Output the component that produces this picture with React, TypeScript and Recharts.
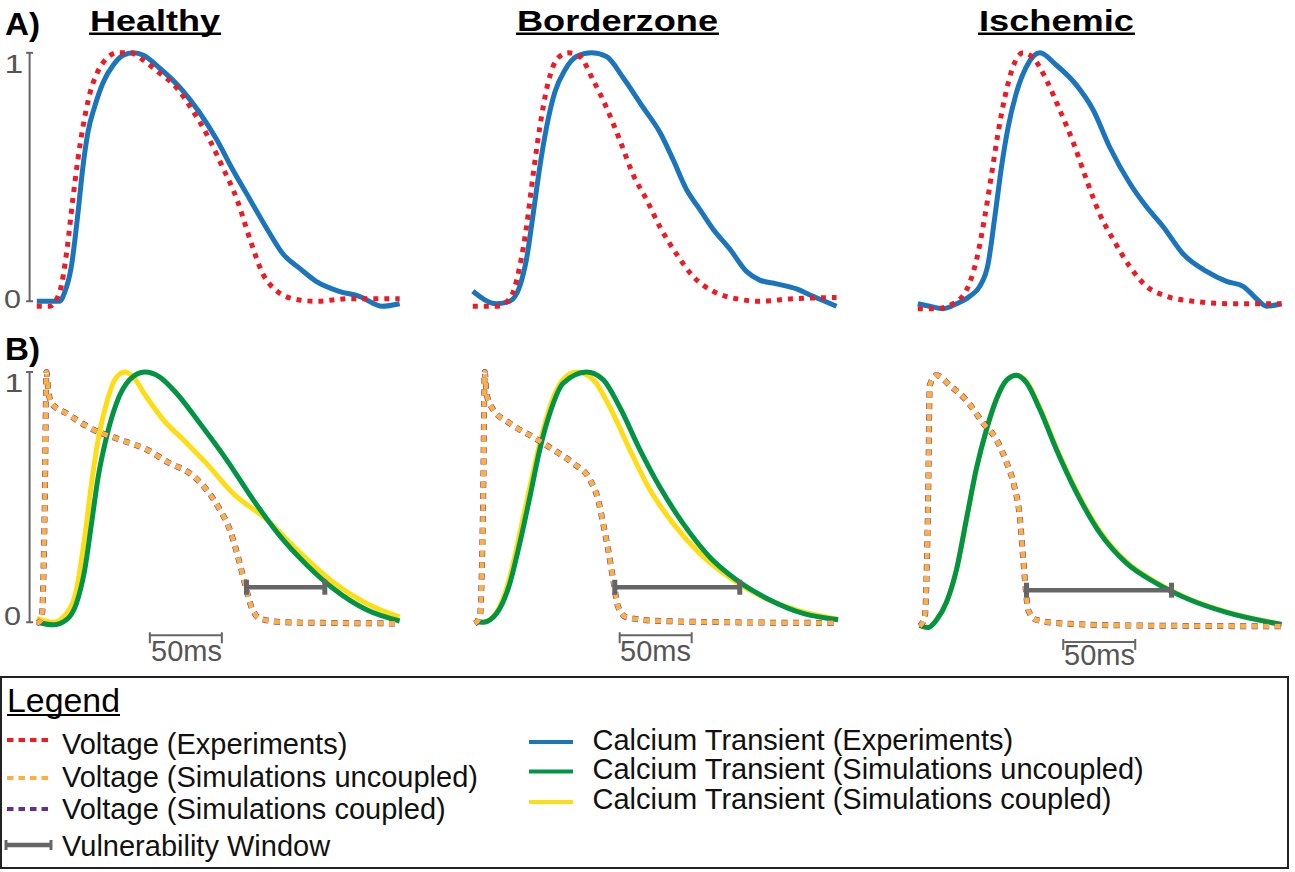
import { LineChart, Line, XAxis, YAxis } from 'recharts';

// traces: [time in ms from panel start, normalised value]

// A) experiments
const healthyCaExp = [[0, 0], [16, 0], [19, 0.03], [24, 0.14], [28.5, 0.35], [32, 0.54], [35.5, 0.68], [40, 0.78], [46, 0.88], [53, 0.95], [60, 0.99], [67, 1], [74, 0.99], [85, 0.94], [101, 0.85], [113, 0.76], [125, 0.65], [136, 0.53], [148, 0.41], [160, 0.29], [171, 0.19], [183, 0.13], [194, 0.08], [210, 0.04], [224, 0.02], [240, -0.02], [252, -0.01]];
const healthyVExp = [[0, -0.02], [9, -0.02], [16, 0.04], [21, 0.21], [25, 0.41], [28.5, 0.57], [32, 0.7], [37, 0.84], [42, 0.92], [49, 0.98], [56, 1], [65, 1], [74, 0.97], [85, 0.92], [97, 0.86], [108, 0.77], [120, 0.65], [129, 0.54], [139, 0.41], [148, 0.25], [157, 0.11], [167, 0.04], [178, 0.01], [194, 0], [217, 0.01], [252, 0.01]];

const borderCaExp = [[0, 0.04], [16.5, -0.01], [25.7, 0], [32.6, 0.06], [37.3, 0.17], [41.9, 0.35], [46.5, 0.54], [51.2, 0.7], [56.9, 0.84], [63.9, 0.93], [72, 0.985], [82.4, 1], [92.8, 0.985], [104.4, 0.9], [118.3, 0.78], [129.9, 0.68], [139.1, 0.57], [148.4, 0.45], [157.6, 0.37], [166.9, 0.29], [178.5, 0.21], [190, 0.12], [199.3, 0.085], [210.9, 0.07], [224.8, 0.05], [236.3, 0.02], [252.6, -0.02]];
const borderVExp = [[0, -0.02], [16.5, -0.02], [25.7, 0.01], [32.6, 0.14], [37.3, 0.3], [41.9, 0.51], [46.5, 0.7], [52.3, 0.88], [59.2, 0.98], [66.2, 1], [74.3, 0.985], [83.6, 0.89], [92.8, 0.78], [102, 0.65], [111.3, 0.51], [120.6, 0.41], [129.9, 0.3], [141.5, 0.19], [153, 0.1], [166.9, 0.04], [183, 0.01], [199, 0], [222, 0.01], [252.6, 0.015]];

const ischemicCaExp = [[0, -0.01], [8.3, -0.02], [17.6, -0.03], [26.9, -0.01], [36.1, 0.02], [43, 0.06], [48.8, 0.15], [53.5, 0.34], [58.1, 0.54], [62.7, 0.7], [68.5, 0.84], [75.5, 0.945], [84.7, 1], [96.3, 0.95], [110.2, 0.87], [121.8, 0.77], [133.3, 0.62], [147.2, 0.475], [158.8, 0.38], [170.4, 0.3], [184.3, 0.19], [200.5, 0.12], [214.4, 0.08], [225.9, 0.06], [235.2, 0.01], [242.2, -0.02], [252.6, -0.01]];
const ischemicVExp = [[0, -0.03], [13, -0.03], [24.5, -0.01], [33.8, 0.045], [40.7, 0.165], [46.5, 0.34], [51.2, 0.51], [55.8, 0.68], [60.4, 0.82], [66.2, 0.945], [73.1, 1], [80.1, 0.98], [89.4, 0.89], [98.6, 0.77], [107.9, 0.64], [117.1, 0.49], [126.4, 0.35], [135.6, 0.25], [147.2, 0.14], [158.8, 0.06], [172.7, 0.02], [191.2, 0], [219, -0.01], [252.6, -0.01]];

// B) simulations
const healthyVSim = [[0, -0.005], [3.3, 0.01], [5.6, 0.5], [6.7, 1], [7.9, 0.93], [10.2, 0.875], [20.6, 0.835], [39.1, 0.77], [57.6, 0.73], [76.2, 0.69], [92.4, 0.635], [106.3, 0.595], [117.8, 0.53], [127.1, 0.45], [134, 0.37], [139.8, 0.26], [144.5, 0.155], [149.1, 0.06], [154.9, 0.015], [171.1, 0], [205.8, -0.003], [252, -0.005]];
const healthyCaUnc = [[0, 0], [11.3, -0.01], [20.6, 0.01], [27.5, 0.075], [33.3, 0.21], [38, 0.395], [42.6, 0.58], [48.4, 0.74], [55.3, 0.875], [64.6, 0.97], [75, 1], [85.4, 0.98], [97, 0.915], [113.2, 0.795], [131.7, 0.65], [150.2, 0.49], [168.8, 0.345], [187.3, 0.23], [205.8, 0.135], [229, 0.05], [252, 0.005]];
const healthyCaCoup = [[0, 0.015], [11.3, 0], [20.6, 0.035], [27.5, 0.13], [33.3, 0.34], [38, 0.555], [42.6, 0.73], [48.4, 0.875], [54.2, 0.97], [61.1, 1], [66.9, 0.98], [76.2, 0.9], [87.7, 0.81], [101.6, 0.73], [117.8, 0.635], [136.3, 0.515], [159.7, 0.41], [183.3, 0.275], [205.8, 0.16], [229, 0.075], [252, 0.02]];
const healthyWindow = [[145.6, 0.14], [200, 0.14]];

const borderVSim = [[1.4, -0.005], [4.9, 0.02], [7.2, 0.5], [8.3, 1], [9.5, 0.915], [13, 0.86], [25.7, 0.795], [41.9, 0.74], [55.8, 0.69], [69.7, 0.635], [81.3, 0.57], [87, 0.49], [90.5, 0.395], [94, 0.29], [97.5, 0.17], [101, 0.06], [106.7, 0.02], [129.9, 0.005], [176.2, 0], [253.7, -0.003]];
const borderCaUnc = [[1.4, 0.005], [7.2, 0], [16.5, 0.035], [25.7, 0.155], [32.6, 0.315], [39.6, 0.5], [46.5, 0.69], [53.5, 0.835], [62.7, 0.955], [79, 1], [90.5, 0.97], [102, 0.86], [116, 0.69], [129.9, 0.54], [146, 0.395], [164.6, 0.26], [183, 0.17], [206, 0.09], [229.4, 0.035], [253.7, 0.01]];
const borderCaCoup = [[1.4, 0.005], [7.2, 0], [16.5, 0.04], [25.7, 0.18], [32.6, 0.355], [39.6, 0.54], [46.5, 0.715], [53.5, 0.86], [62.7, 0.97], [72, 1], [83.6, 0.97], [95.1, 0.86], [109, 0.69], [122.9, 0.53], [139.1, 0.395], [157.6, 0.275], [178.5, 0.178], [201.6, 0.1], [227, 0.045], [253.7, 0.012]];
const borderWindow = [[98.6, 0.14], [185.4, 0.14]];

const ischemicVSim = [[1.4, 0.005], [4.9, 0.045], [7.2, 0.52], [8.3, 0.96], [13, 1], [22.2, 0.96], [33.8, 0.9], [45.4, 0.81], [54.6, 0.745], [61.6, 0.655], [67.4, 0.55], [70.8, 0.44], [73.1, 0.28], [75, 0.15], [76.6, 0.07], [82.4, 0.03], [103.3, 0.015], [149.5, 0.008], [252.6, 0.005]];
const ischemicCaUnc = [[1.4, 0.008], [7.2, 0], [13, 0.03], [19.9, 0.1], [26.9, 0.23], [33.8, 0.43], [40.7, 0.63], [47.7, 0.785], [54.6, 0.905], [61.6, 0.98], [68.5, 1], [75.5, 0.97], [84.7, 0.865], [96.3, 0.705], [110.2, 0.535], [126.4, 0.375], [144.9, 0.255], [165.8, 0.175], [188.9, 0.11], [214.4, 0.06], [252.6, 0.012]];
const ischemicCaCoup = [[1.4, 0.008], [7.2, 0], [13, 0.03], [19.9, 0.1], [26.9, 0.23], [33.8, 0.43], [40.7, 0.63], [47.7, 0.785], [54.6, 0.905], [61.6, 0.98], [68.5, 1], [75.5, 0.975], [84.7, 0.872], [96.3, 0.712], [110.2, 0.542], [126.4, 0.382], [144.9, 0.26], [165.8, 0.178], [188.9, 0.112], [214.4, 0.062], [252.6, 0.013]];
const ischemicWindow = [[75.5, 0.148], [176.2, 0.148]];

// scale bars (0..1 amplitude bar, 50 ms time bar)
const ampBar = [[-5, 0], [-5, 1]];
const healthy50ms = [[78.5, -0.052], [128.5, -0.052]];
const border50ms = [[102, -0.052], [152, -0.052]];
const ischemic50ms = [[101, -0.057], [151, -0.057]];

const columnTitles = ['Healthy', 'Borderzone', 'Ischemic'];
const voltageLegend = ['Voltage (Experiments)', 'Voltage (Simulations uncoupled)', 'Voltage (Simulations coupled)', 'Vulnerability Window'];
const calciumLegend = ['Calcium Transient (Experiments)', 'Calcium Transient (Simulations uncoupled)', 'Calcium Transient (Simulations coupled)'];

const RED = '#ed1c24';
const BLUE = '#1b75bc';
const ORANGE = '#fbb040';
const PURPLE = '#662d91';
const GREEN = '#009444';
const YELLOW = '#ffdd15';
const GRAY = '#666666';
const FONT = '"Liberation Sans", Arial, Helvetica, sans-serif';

const PX_PER_MS = 1.44;
const T_MIN = -20;
const T_MAX = 262;
const V_MIN = -0.2;
const V_MAX = 1.1;

type Spec = { data: number[][]; color: string; width: number; dash?: string; cap?: 'v' | 'h' | 'tick'; straight?: boolean };

const toPts = (a: number[][]) => a.map(([t, v]) => ({ t, v }));

function capDot(kind: string, color: string) {
  return (p: any) => {
    const { cx, cy, index } = p;
    if (cx == null || cy == null) return <g key={`n${index}`} />;
    if (kind === 'v') return <line key={`c${index}`} x1={cx} x2={cx} y1={cy - 7.5} y2={cy + 7.5} stroke={color} strokeWidth={5} />;
    if (kind === 'h') return <line key={`c${index}`} x1={cx - 3.5} x2={cx + 3.5} y1={cy} y2={cy} stroke={color} strokeWidth={2} />;
    return <line key={`c${index}`} x1={cx} x2={cx} y1={cy - 3} y2={cy + 8} stroke={color} strokeWidth={2} />;
  };
}

function Panel({ x0, y1, y0, specs }: { x0: number; y1: number; y0: number; specs: Spec[] }) {
  const pxPerV = y0 - y1;
  const top = y1 - (V_MAX - 1) * pxPerV;
  const height = (V_MAX - V_MIN) * pxPerV;
  const width = (T_MAX - T_MIN) * PX_PER_MS;
  return (
    <div style={{ position: 'absolute', left: x0 + T_MIN * PX_PER_MS, top }}>
      <LineChart width={width} height={height} margin={{ top: 0, right: 0, bottom: 0, left: 0 }}>
        <XAxis type="number" dataKey="t" domain={[T_MIN, T_MAX]} hide allowDataOverflow />
        <YAxis type="number" dataKey="v" domain={[V_MIN, V_MAX]} hide allowDataOverflow />
        {specs.map((s, i) => (
          <Line
            key={i}
            data={toPts(s.data)}
            dataKey="v"
            type={s.straight ? 'linear' : 'monotone'}
            stroke={s.color}
            strokeWidth={s.width}
            strokeDasharray={s.dash}
            strokeLinecap="butt"
            dot={s.cap ? capDot(s.cap, s.color) : false}
            activeDot={false}
            isAnimationActive={false}
          />
        ))}
      </LineChart>
    </div>
  );
}

const ampSpec: Spec = { data: ampBar, color: GRAY, width: 2, cap: 'h', straight: true };
const barSpec = (d: number[][]): Spec => ({ data: d, color: GRAY, width: 2, cap: 'tick', straight: true });
const winSpec = (d: number[][]): Spec => ({ data: d, color: GRAY, width: 4.5, cap: 'v', straight: true });
const expSpecs = (ca: number[][], v: number[][]): Spec[] => [
  { data: ca, color: BLUE, width: 5 },
  { data: v, color: RED, width: 5, dash: '5 6' },
];
const simSpecs = (unc: number[][], coup: number[][], v: number[][]): Spec[] => [
  { data: coup, color: YELLOW, width: 5 },
  { data: unc, color: GREEN, width: 5 },
  { data: v, color: PURPLE, width: 6, dash: '6 5.5' },
  { data: v, color: ORANGE, width: 5, dash: '6 5.5' },
];

export default function App() {
  const titleX = [90, 517, 979];
  const titleLen = [130, 201, 155];
  const fiftyX = [151, 620, 1064];
  const fiftyY = [661, 661, 665];
  return (
    <div style={{ position: 'relative', width: 1295, height: 872, background: '#fff', overflow: 'hidden', fontFamily: FONT }}>
      <style>{'body{margin:0}'}</style>

      <Panel x0={37} y1={53.3} y0={301.7} specs={[ampSpec, ...expSpecs(healthyCaExp, healthyVExp)]} />
      <Panel x0={473} y1={53.3} y0={301.7} specs={expSpecs(borderCaExp, borderVExp)} />
      <Panel x0={918} y1={53.3} y0={301.7} specs={expSpecs(ischemicCaExp, ischemicVExp)} />

      <Panel x0={37} y1={372.3} y0={622.5} specs={[ampSpec, ...simSpecs(healthyCaUnc, healthyCaCoup, healthyVSim), winSpec(healthyWindow), barSpec(healthy50ms)]} />
      <Panel x0={473} y1={372.3} y0={622.5} specs={[...simSpecs(borderCaUnc, borderCaCoup, borderVSim), winSpec(borderWindow), barSpec(border50ms)]} />
      <Panel x0={918} y1={375.7} y0={628} specs={[...simSpecs(ischemicCaUnc, ischemicCaCoup, ischemicVSim), winSpec(ischemicWindow), barSpec(ischemic50ms)]} />

      <svg width={1295} height={872} style={{ position: 'absolute', left: 0, top: 0, pointerEvents: 'none' }} fontFamily={FONT}>
        <text x={5} y={35} fontSize={32} fontWeight="bold" textLength={35} lengthAdjust="spacingAndGlyphs">A)</text>
        <text x={5} y={360} fontSize={32} fontWeight="bold" textLength={35} lengthAdjust="spacingAndGlyphs">B)</text>
        {columnTitles.map((t, i) => (
          <g key={t}>
            <text x={titleX[i]} y={31} fontSize={30} fontWeight="bold" textLength={titleLen[i]} lengthAdjust="spacingAndGlyphs">{t}</text>
            <rect x={titleX[i] - 1} y={32.5} width={titleLen[i] + 2} height={2.5} fill="#000" />
          </g>
        ))}

        <g fill="#555" fontSize={26}>
          <text x={4.4} y={73} textLength={18.8} lengthAdjust="spacingAndGlyphs">1</text>
          <text x={4} y={308} textLength={17} lengthAdjust="spacingAndGlyphs">0</text>
          <text x={4.4} y={392} textLength={18.8} lengthAdjust="spacingAndGlyphs">1</text>
          <text x={4} y={625} textLength={17} lengthAdjust="spacingAndGlyphs">0</text>
        </g>
        {fiftyX.map((x, i) => (
          <text key={i} x={x} y={fiftyY[i]} fontSize={29} fill="#555">50ms</text>
        ))}

        <rect x={1} y={677} width={1287} height={191} fill="none" stroke="#222" strokeWidth={2} />
        <text x={7} y={712} fontSize={33} textLength={113} lengthAdjust="spacingAndGlyphs">Legend</text>
        <rect x={7} y={714} width={113} height={2} fill="#000" />

        <line x1={7} x2={49} y1={740} y2={740} stroke={RED} strokeWidth={4} strokeDasharray="6.5 5" />
        <line x1={7} x2={49} y1={778} y2={778} stroke={ORANGE} strokeWidth={4} strokeDasharray="6.5 5" />
        <line x1={7} x2={49} y1={809} y2={809} stroke={PURPLE} strokeWidth={4} strokeDasharray="6.5 5" />
        <line x1={6} x2={51} y1={845} y2={845} stroke={GRAY} strokeWidth={4.5} />
        <line x1={6} x2={6} y1={840} y2={850} stroke={GRAY} strokeWidth={3} />
        <line x1={51} x2={51} y1={840} y2={850} stroke={GRAY} strokeWidth={3} />
        {voltageLegend.map((t, i) => (
          <text key={t} x={62} y={[754, 787, 819, 856][i]} fontSize={29} fill="#111">{t}</text>
        ))}

        {[BLUE, GREEN, YELLOW].map((c, i) => (
          <line key={c} x1={529} x2={573} y1={[742, 771.5, 802][i]} y2={[742, 771.5, 802][i]} stroke={c} strokeWidth={4} />
        ))}
        {calciumLegend.map((t, i) => (
          <text key={t} x={592.5} y={[749.5, 779, 808.5][i]} fontSize={29} fill="#111">{t}</text>
        ))}
      </svg>
    </div>
  );
}
